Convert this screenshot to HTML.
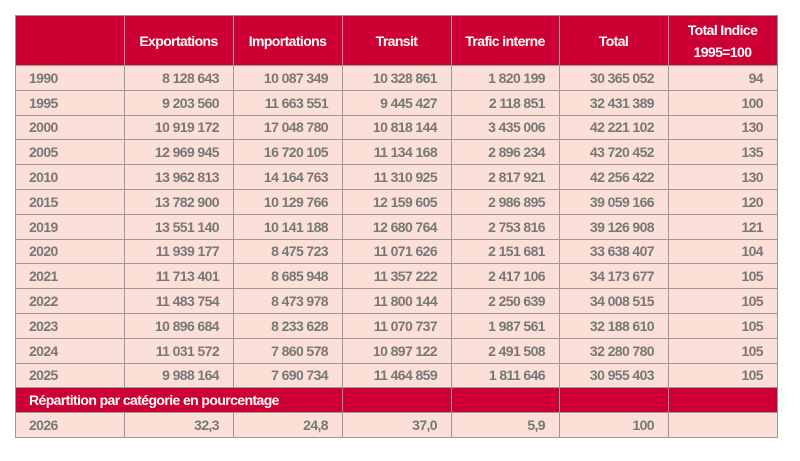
<!DOCTYPE html>
<html><head><meta charset="utf-8"><style>
body{margin:0;background:#fff;width:800px;height:461px;overflow:hidden}
table{position:absolute;left:15px;top:15px;width:762px;border-collapse:collapse;table-layout:fixed;font-family:"Liberation Sans Narrow","Liberation Sans",sans-serif;font-weight:bold;font-size:14px;letter-spacing:-0.6px;color:#777}
td,th{border:1px solid #999;padding:0 14px 0 13px;height:23.8px;background:#fce0d8;text-align:right;white-space:nowrap;overflow:hidden}
th{background:#cc0033;color:#fff;text-align:center;height:49px;line-height:22px;font-size:14px}
td:first-child{text-align:left}
tr.red td{background:#cc0033;color:#fff}
</style></head><body>
<table>
<colgroup><col style="width:109px"><col style="width:109px"><col style="width:109px"><col style="width:109px"><col style="width:108px"><col style="width:109px"><col style="width:109px"></colgroup>
<tr><th></th><th>Exportations</th><th>Importations</th><th>Transit</th><th>Trafic interne</th><th>Total</th><th>Total Indice<br>1995=100</th></tr>
<tr><td>1990</td><td>8 128 643</td><td>10 087 349</td><td>10 328 861</td><td>1 820 199</td><td>30 365 052</td><td>94</td></tr>
<tr><td>1995</td><td>9 203 560</td><td>11 663 551</td><td>9 445 427</td><td>2 118 851</td><td>32 431 389</td><td>100</td></tr>
<tr><td>2000</td><td>10 919 172</td><td>17 048 780</td><td>10 818 144</td><td>3 435 006</td><td>42 221 102</td><td>130</td></tr>
<tr><td>2005</td><td>12 969 945</td><td>16 720 105</td><td>11 134 168</td><td>2 896 234</td><td>43 720 452</td><td>135</td></tr>
<tr><td>2010</td><td>13 962 813</td><td>14 164 763</td><td>11 310 925</td><td>2 817 921</td><td>42 256 422</td><td>130</td></tr>
<tr><td>2015</td><td>13 782 900</td><td>10 129 766</td><td>12 159 605</td><td>2 986 895</td><td>39 059 166</td><td>120</td></tr>
<tr><td>2019</td><td>13 551 140</td><td>10 141 188</td><td>12 680 764</td><td>2 753 816</td><td>39 126 908</td><td>121</td></tr>
<tr><td>2020</td><td>11 939 177</td><td>8 475 723</td><td>11 071 626</td><td>2 151 681</td><td>33 638 407</td><td>104</td></tr>
<tr><td>2021</td><td>11 713 401</td><td>8 685 948</td><td>11 357 222</td><td>2 417 106</td><td>34 173 677</td><td>105</td></tr>
<tr><td>2022</td><td>11 483 754</td><td>8 473 978</td><td>11 800 144</td><td>2 250 639</td><td>34 008 515</td><td>105</td></tr>
<tr><td>2023</td><td>10 896 684</td><td>8 233 628</td><td>11 070 737</td><td>1 987 561</td><td>32 188 610</td><td>105</td></tr>
<tr><td>2024</td><td>11 031 572</td><td>7 860 578</td><td>10 897 122</td><td>2 491 508</td><td>32 280 780</td><td>105</td></tr>
<tr><td>2025</td><td>9 988 164</td><td>7 690 734</td><td>11 464 859</td><td>1 811 646</td><td>30 955 403</td><td>105</td></tr>
<tr class="red"><td colspan="3">Répartition par catégorie en pourcentage</td><td></td><td></td><td></td><td></td></tr>
<tr><td>2026</td><td>32,3</td><td>24,8</td><td>37,0</td><td>5,9</td><td>100</td><td></td></tr>
</table>
</body></html>
